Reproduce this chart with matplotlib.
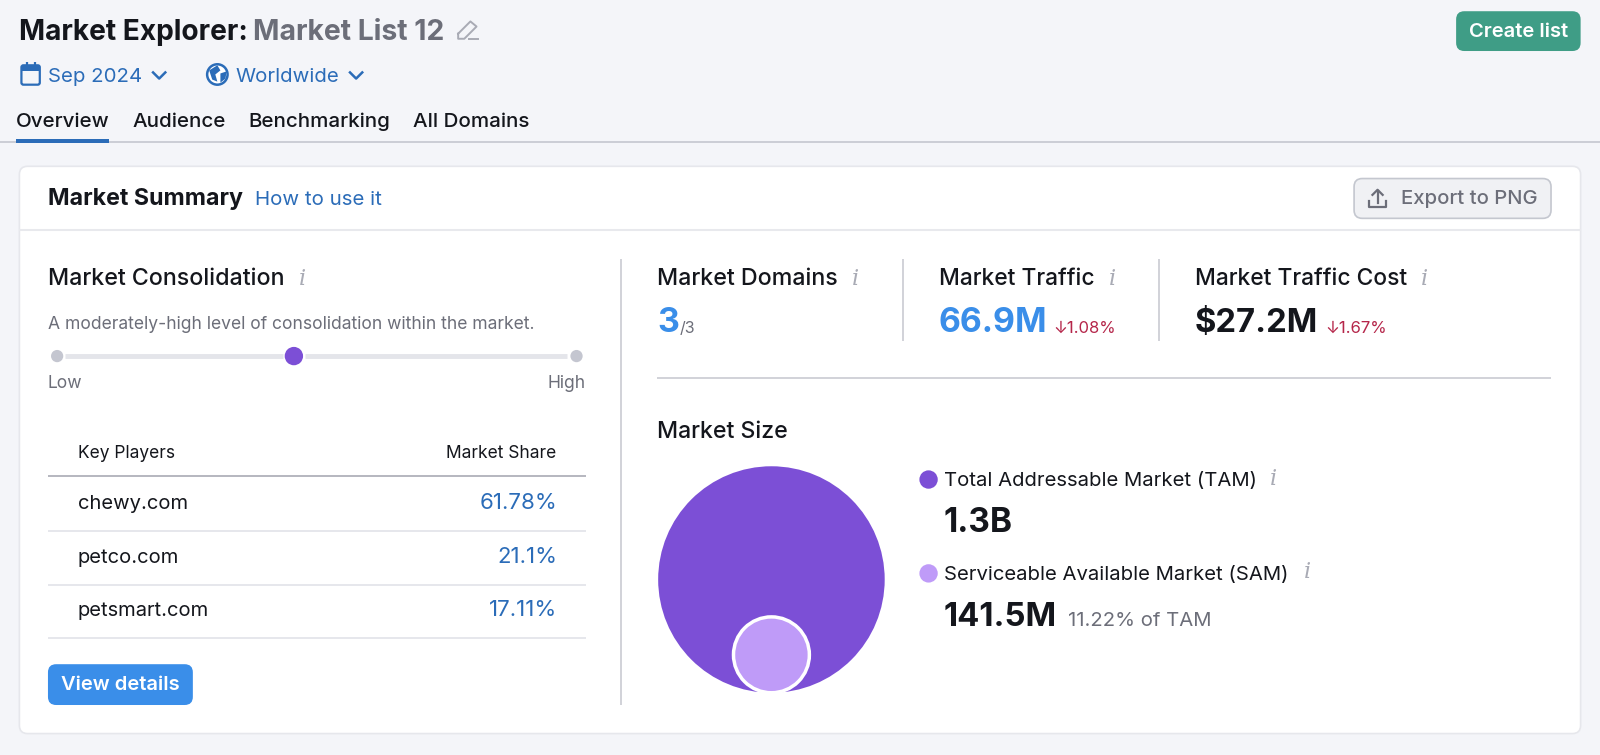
import matplotlib
matplotlib.use('Agg')
import matplotlib.pyplot as plt
from matplotlib.patches import Circle, FancyBboxPatch, Polygon, Rectangle

plt.rcParams['font.family'] = ['Inter', 'DejaVu Sans']

# values
tabs = ['Overview', 'Audience', 'Benchmarking', 'All Domains']
players = ['chewy.com', 'petco.com', 'petsmart.com']
shares = [61.78, 21.1, 17.11]
share_labels = ['61.78%', '21.1%', '17.11%']
tam = 1.261e9
sam = 141.5e6
sam_pct = 11.22

INK = '#14161c'
GRAY = '#6c6e79'
LIGHT = '#e4e5ea'
BLUE = '#2b6cb8'
BRIGHT = '#3a8ee9'
RED = '#b5264a'
PURPLE = '#7c4fd6'
LILAC = '#bf9bf8'
ICON = '#a9abb5'

fig = plt.figure(figsize=(16, 7.55), dpi=100, facecolor='#f4f5f9')
ax = fig.add_axes([0, 0, 1, 1])
ax.set_xlim(0, 1568)
ax.set_ylim(740, 0)
ax.axis('off')


def txt(x, y, s, size=14, color=INK, weight='normal', ha='left', **kw):
    # inter sits a bit high with va=center, so push it down
    return ax.text(x, y + 1.8, s, fontsize=size, color=color, fontweight=weight, ha=ha, va='center', **kw)


def box(x0, y0, x1, y1, face, edge='none', lw=1, r=8, z=1):
    p = FancyBboxPatch((x0 + r, y0 + r), x1 - x0 - 2 * r, y1 - y0 - 2 * r,
                       boxstyle='round,pad=%d,rounding_size=%d' % (r, r),
                       fc=face, ec=edge, lw=lw, zorder=z)
    ax.add_patch(p)


def hline(x0, x1, y, color=LIGHT, lw=1.2):
    ax.plot([x0, x1], [y, y], color=color, lw=lw, solid_capstyle='butt', zorder=2)


def vline(x, y0, y1, color='#c9cbd2', lw=1.2):
    ax.plot([x, x], [y0, y1], color=color, lw=lw, solid_capstyle='butt', zorder=2)


def info(x, y):
    ax.text(x, y + 1, 'i', fontsize=16, color=ICON, family='DejaVu Serif', style='italic',
            ha='center', va='center')


def chevron(x, y, color=BLUE):
    ax.plot([x - 6, x, x + 6], [y - 3, y + 3, y - 3], color=color, lw=1.8, zorder=3)


# page header
txt(19, 30, 'Market Explorer:', 20.2, INK, 'bold')
txt(248, 30, 'Market List 12', 20.4, GRAY, 'bold')
ax.plot([449, 461, 467, 455, 449, 449], [33, 21, 26, 38, 38, 33], color=ICON, lw=1.4)
ax.plot([460, 468], [38, 38], color=ICON, lw=1.4)
box(1427, 11, 1549, 50, '#3f9d86')
txt(1488, 29.5, 'Create list', 14.5, 'white', 'semibold', ha='center')

# date and region pickers
box(21, 64, 39, 83, 'none', BLUE, 1.6, r=2, z=3)
ax.add_patch(Rectangle((21, 65), 18, 5, fc=BLUE, ec='none', zorder=3))
vline(26, 61, 66, BLUE, 1.6)
vline(34, 61, 66, BLUE, 1.6)
txt(47, 73.5, 'Sep 2024', 14.7, BLUE)
chevron(156, 74)
ax.add_patch(Circle((213, 73), 10, fc='white', ec=BLUE, lw=1.8, zorder=3))
ax.add_patch(Polygon([(205, 69), (213, 64), (216, 69), (211, 73), (213, 80), (208, 78)],
                     fc=BLUE, ec='none', zorder=4))
ax.add_patch(Polygon([(216, 72), (222, 70), (221, 77), (216, 81)], fc=BLUE, ec='none', zorder=4))
txt(231, 73.5, 'Worldwide', 14.7, BLUE)
chevron(349, 74)

# tabs
for x, tab in zip([16, 129.5, 243, 405], tabs):
    txt(x, 117.5, tab, 14.8, INK, 'medium')
hline(0, 1568, 139, '#c4c7cf', 1.2)
ax.add_patch(Rectangle((16, 136), 91, 4, fc=BLUE, ec='none', zorder=3))

# card
box(19, 163, 1549, 719, 'white', '#e6e7ec', 1.2)
txt(47, 193.5, 'Market Summary', 16.7, INK, 'bold')
txt(250, 194.5, 'How to use it', 14.7, BLUE)
hline(19, 1549, 225, '#e8e9ed', 1.5)
box(1327, 175, 1520, 214, '#f0f1f4', '#c4c7cf', 1.2)
ax.plot([1342, 1342, 1358, 1358], [197, 203, 203, 197], color=GRAY, lw=1.6, zorder=3)
ax.plot([1350, 1350], [187, 199], color=GRAY, lw=1.6, zorder=3)
ax.plot([1345, 1350, 1355], [191, 186, 191], color=GRAY, lw=1.6, zorder=3)
txt(1373, 193.5, 'Export to PNG', 14.6, GRAY, 'medium')

# market consolidation
txt(47, 271.5, 'Market Consolidation', 16.7, INK, 'medium')
info(296, 272)
txt(47, 316.5, 'A moderately-high level of consolidation within the market.', 12.6, GRAY)
hline(64, 277, 349, LIGHT, 3.5)
hline(299, 556, 349, LIGHT, 3.5)
ax.add_patch(Circle((56, 349), 6, fc='#c4c6d0', ec='none', zorder=3))
ax.add_patch(Circle((565, 349), 6, fc='#c4c6d0', ec='none', zorder=3))
ax.add_patch(Circle((288, 349), 9, fc=PURPLE, ec='none', zorder=3))
txt(47, 374, 'Low', 12.6, GRAY)
txt(574, 374, 'High', 12.6, GRAY, ha='right')

# key players table
txt(76, 442.5, 'Key Players', 12.5)
txt(545, 442.5, 'Market Share', 12.5, ha='right')
hline(47, 574, 467, '#b5b7bf', 1.4)
row_y = [493, 546, 598]
for y, name, label in zip(row_y, players, share_labels):
    txt(76, y - 0.5, name, 14.5)
    txt(546, y - 2, label, 16, BLUE, ha='right')
    hline(47, 574, y + 27, LIGHT, 1.3)
box(47, 651, 189, 691, BRIGHT)
txt(118, 669.5, 'View details', 14.5, 'white', 'semibold', ha='center')

vline(609, 254, 691)

# top metrics
txt(644, 271.5, 'Market Domains', 16.7, INK, 'medium')
info(838, 272)
txt(644, 315, '3', 24.5, BRIGHT, 'bold')
txt(666, 320, '/3', 11.5, GRAY)
vline(885, 254, 334)
txt(920, 271.5, 'Market Traffic', 16.4, INK, 'medium')
info(1090, 272)
txt(920, 315, '66.9M', 24.4, BRIGHT, 'bold')
txt(1032, 320, '↓1.08%', 12, RED)
vline(1136, 254, 334)
txt(1171, 271.5, 'Market Traffic Cost', 16.4, INK, 'medium')
info(1396, 272)
txt(1171, 315, '$27.2M', 23.6, INK, 'bold')
txt(1299, 320, '↓1.67%', 12, RED)
hline(644, 1520, 370, '#c9cbd2', 1.2)

# market size: the inner circle sits on the bottom of the outer one, area follows the values
txt(644, 421.5, 'Market Size', 16.6, INK, 'medium')
R = 111
r = R * (sam / tam) ** 0.5
cx, cy = 756, 568
ax.add_patch(Circle((cx, cy), R, fc=PURPLE, ec='none', zorder=3))
ax.add_patch(Circle((cx, cy + R - r), r, fc=LILAC, ec='white', lw=2.5, zorder=4))

ax.add_patch(Circle((910, 470), 9, fc=PURPLE, ec='none', zorder=3))
txt(925, 469.5, 'Total Addressable Market (TAM)', 14.6)
info(1248, 468)
txt(925, 511, '1.3B', 24, INK, 'bold')
ax.add_patch(Circle((910, 562), 9, fc=LILAC, ec='none', zorder=3))
txt(925, 561.5, 'Serviceable Available Market (SAM)', 14.6)
info(1281, 560)
txt(925, 603, '141.5M', 23.7, INK, 'bold')
txt(1047, 606.5, '%.2f%% of TAM' % sam_pct, 14.6, GRAY)

fig.savefig('out.png', dpi=100, facecolor=fig.get_facecolor())
